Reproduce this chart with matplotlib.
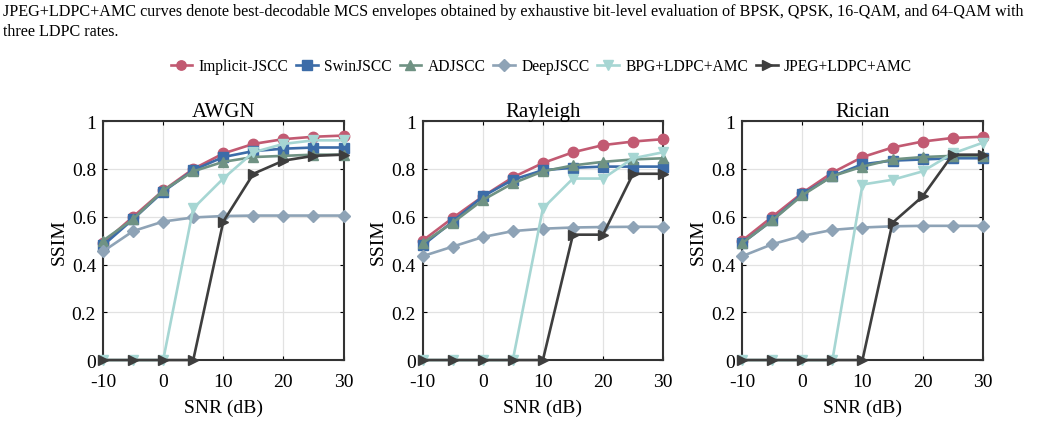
"""
SSIM vs SNR for JSCC and separation baselines over AWGN, Rayleigh and Rician channels.
"""

import matplotlib
matplotlib.use("Agg")
import matplotlib.pyplot as plt

plt.rcParams["font.family"] = ["Liberation Serif", "DejaVu Serif"]
plt.rcParams["axes.unicode_minus"] = False

snr = [-10, -5, 0, 5, 10, 15, 20, 25, 30]

methods = ["Implicit-JSCC", "SwinJSCC", "ADJSCC", "DeepJSCC", "BPG+LDPC+AMC", "JPEG+LDPC+AMC"]
colors = ["#C25A72", "#3C6CA8", "#6F9283", "#8EA3B6", "#A6D6D3", "#3E3E3E"]
markers = ["o", "s", "^", "D", "v", ">"]

channels = ["AWGN", "Rayleigh", "Rician"]

awgn_implicit = [0.49, 0.60, 0.71, 0.80, 0.865, 0.905, 0.925, 0.935, 0.94]
awgn_swin = [0.48, 0.59, 0.705, 0.795, 0.85, 0.875, 0.885, 0.89, 0.89]
awgn_adj = [0.50, 0.59, 0.71, 0.79, 0.83, 0.85, 0.855, 0.86, 0.86]
awgn_deep = [0.455, 0.54, 0.58, 0.597, 0.603, 0.605, 0.605, 0.605, 0.605]
awgn_bpg = [0, 0, 0, 0.635, 0.76, 0.87, 0.905, 0.92, 0.92]
awgn_jpeg = [0, 0, 0, 0, 0.58, 0.78, 0.835, 0.855, 0.86]

ray_implicit = [0.50, 0.595, 0.685, 0.765, 0.825, 0.87, 0.90, 0.915, 0.925]
ray_swin = [0.48, 0.58, 0.685, 0.755, 0.795, 0.805, 0.81, 0.81, 0.81]
ray_adj = [0.49, 0.575, 0.67, 0.74, 0.79, 0.815, 0.83, 0.84, 0.845]
ray_deep = [0.435, 0.475, 0.515, 0.54, 0.55, 0.555, 0.557, 0.558, 0.558]
ray_bpg = [0, 0, 0, 0, 0.635, 0.76, 0.76, 0.845, 0.87]
ray_jpeg = [0, 0, 0, 0, 0, 0.525, 0.525, 0.78, 0.78]

ric_implicit = [0.50, 0.60, 0.70, 0.785, 0.85, 0.89, 0.915, 0.93, 0.935]
ric_swin = [0.49, 0.585, 0.695, 0.77, 0.82, 0.835, 0.84, 0.845, 0.845]
ric_adj = [0.49, 0.585, 0.69, 0.77, 0.81, 0.84, 0.85, 0.855, 0.855]
ric_deep = [0.435, 0.485, 0.52, 0.545, 0.555, 0.56, 0.562, 0.562, 0.562]
ric_bpg = [0, 0, 0, 0, 0.735, 0.755, 0.79, 0.865, 0.91]
ric_jpeg = [0, 0, 0, 0, 0, 0.575, 0.685, 0.86, 0.86]

data = {
    "AWGN": [awgn_implicit, awgn_swin, awgn_adj, awgn_deep, awgn_bpg, awgn_jpeg],
    "Rayleigh": [ray_implicit, ray_swin, ray_adj, ray_deep, ray_bpg, ray_jpeg],
    "Rician": [ric_implicit, ric_swin, ric_adj, ric_deep, ric_bpg, ric_jpeg],
}

fig = plt.figure(figsize=(10.41, 4.35), dpi=100)

# caption fragment at top
fig.text(0.003, 0.99,
         "JPEG+LDPC+AMC curves denote best-decodable MCS envelopes obtained by exhaustive bit-level "
         "evaluation of BPSK, QPSK, 16-QAM, and 64-QAM with",
         fontsize=11.6, va="top", ha="left")
fig.text(0.003, 0.944, "three LDPC rates.", fontsize=11.6, va="top", ha="left")

lefts = [0.099, 0.406, 0.713]
width = 0.231
bottom = 0.170
height = 0.549

handles = []
for i, ch in enumerate(channels):
    ax = fig.add_axes([lefts[i], bottom, width, height])
    for j, name in enumerate(methods):
        (h,) = ax.plot(snr, data[ch][j], color=colors[j], marker=markers[j],
                       markersize=7.5 if markers[j] != "D" else 6.5, linewidth=1.9,
                       label=name, clip_on=False, zorder=3)
        if i == 0:
            handles.append(h)
    ax.set_xlim(-10, 30)
    ax.set_ylim(0, 1)
    ax.set_xticks([-10, 0, 10, 20, 30])
    ax.set_yticks([0, 0.2, 0.4, 0.6, 0.8, 1])
    ax.set_yticklabels(["0", "0.2", "0.4", "0.6", "0.8", "1"])
    ax.grid(True, color="#E2E2E2", linewidth=0.9)
    ax.set_axisbelow(True)
    ax.tick_params(direction="in", labelsize=14, length=3, top=True, right=True)
    ax.tick_params(axis="x", pad=9)
    ax.tick_params(axis="y", pad=5)
    for sp in ax.spines.values():
        sp.set_linewidth(1.5)
        sp.set_color("#333333")
    ax.set_title(ch, fontsize=15, pad=4)
    ax.set_xlabel("SNR (dB)", fontsize=14, labelpad=6.5)
    ax.set_ylabel("SSIM", fontsize=14, labelpad=3)

fig.legend(handles=handles, loc="center", bbox_to_anchor=(0.52, 0.846), ncol=6,
           frameon=False, fontsize=11.2, handlelength=1.4, handletextpad=0.4,
           columnspacing=0.5, markerscale=0.9)

fig.savefig("out.png", dpi=100)
